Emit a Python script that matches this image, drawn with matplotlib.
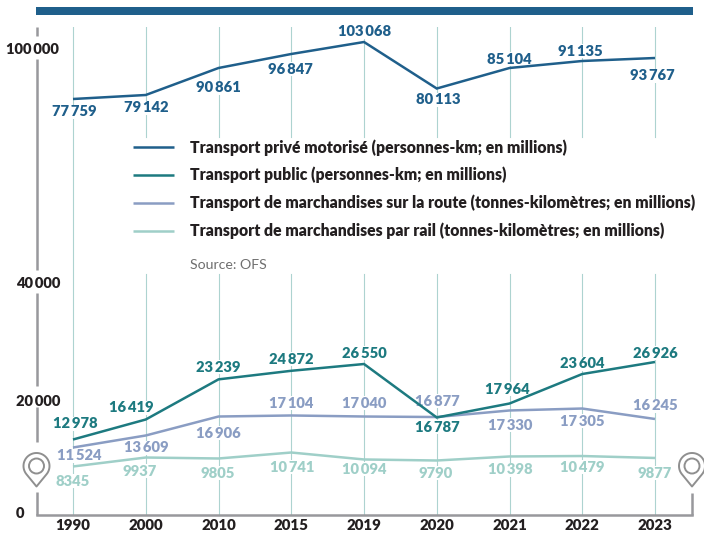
import numpy as np
import matplotlib
matplotlib.use("Agg")
import matplotlib.pyplot as plt
from matplotlib.lines import Line2D
from matplotlib.patches import Rectangle, PathPatch, Circle
from matplotlib.path import Path
from matplotlib.transforms import Affine2D

FONT = "Lato"
WEIGHT = "heavy"
plt.rcParams["font.family"] = [FONT, "DejaVu Sans"]

years = ["1990", "2000", "2010", "2015", "2019", "2020", "2021", "2022", "2023"]

# Values as drawn in the picture (the source's line does not always sit at its printed value)
prive = [77780, 79560, 91560, 97780, 103110, 82440, 91560, 94670, 96000]
public = [13040, 16520, 23500, 24990, 26170, 16870, 19300, 24430, 26520]
route = [11650, 13740, 17040, 17220, 17040, 16950, 18090, 18430, 16610]
rail = [8350, 9910, 9740, 10780, 9570, 9390, 10090, 10170, 9830]

prive_labels = ["77759", "79142", "90861", "96847", "103068", "80113", "85104", "91135", "93767"]
public_labels = ["12978", "16419", "23239", "24872", "26550", "16787", "17964", "23604", "26926"]
route_labels = ["11524", "13609", "16906", "17104", "17040", "16877", "17330", "17305", "16245"]
rail_labels = ["8345", "9937", "9805", "10741", "10094", "9790", "10398", "10479", "9877"]

series_names = [
    "Transport privé motorisé (personnes-km; en millions)",
    "Transport public (personnes-km; en millions)",
    "Transport de marchandises sur la route (tonnes-kilomètres; en millions)",
    "Transport de marchandises par rail (tonnes-kilomètres; en millions)",
]

C_PRIVE, C_PUBLIC, C_ROUTE, C_RAIL = "#1f5f8b", "#1d7a80", "#8a9dc3", "#9fcfc8"
C_GRID, C_AXIS, C_TEXT = "#add3d0", "#98989c", "#231f20"

W, H = 704, 534
fig = plt.figure(figsize=(W / 100, H / 100), dpi=100, facecolor="white")
px = Affine2D().scale(1, -1).translate(0, H)

L, R, B, T = 36.5, 692.0, 514.5, 27.0
rect = [L / W, (H - B) / H, (R - L) / W, (B - T) / H]
low = fig.add_axes(rect)
up = fig.add_axes(rect)
up.patch.set_alpha(0)

LOW_UNIT, UP_UNIT = 173.9, 444.4
low.set_ylim(0, (B - T) * LOW_UNIT)
up.set_ylim(100000 - (B - 49) * UP_UNIT, 100000 + (49 - T) * UP_UNIT)
x = np.arange(len(years))
xlim = ((L - 73) / 72.75, (R - 73) / 72.75)
for a in (low, up):
    a.set_xlim(*xlim)
    for s in a.spines.values():
        s.set_visible(False)
up.set_xticks([])
up.set_yticks([])

low.set_yticks([])
low.set_xticks(x, years, fontsize=10.8, fontweight=WEIGHT, color=C_TEXT)
low.tick_params(axis="x", length=0, pad=3.5)
low.spines["bottom"].set_visible(True)
low.spines["bottom"].set_color(C_AXIS)
low.spines["bottom"].set_linewidth(1.8)

def lowv(p):
    return (B - p) * LOW_UNIT

top_px = [27] + [27] * 3 + [37] + [27] * 4
for i in x:
    if i == 0:
        low.plot([i, i], [lowv(27), 0], color=C_GRID, lw=0.8, zorder=1)
    else:
        low.plot([i, i], [lowv(top_px[i]), lowv(137)], color=C_GRID, lw=0.8, zorder=1)
        low.plot([i, i], [lowv(274), 0], color=C_GRID, lw=0.8, zorder=1)

lw = 1.8
kw = dict(lw=lw, solid_joinstyle="miter", solid_capstyle="butt")
h1, = up.plot(x, prive, color=C_PRIVE, zorder=3, **kw)
h4, = low.plot(x, rail, color=C_RAIL, zorder=3, **kw)
h3, = low.plot(x, route, color=C_ROUTE, zorder=3, **kw)
h2, = low.plot(x, public, color=C_PUBLIC, zorder=4, **kw)

def fmt(s):
    return s[:-3] + "\u2009" + s[-3:] if len(s) > 4 else s

# label centres, in pixels of the picture
prive_pos = [(74, 111), (146, 107), (218, 87), (290, 68), (365, 31), (438, 99), (509, 58), (580, 50), (652, 75)]
public_pos = [(75, 423), (131, 407), (218, 366), (291, 358), (364, 352), (437, 426), (507, 388), (582, 363), (655, 352)]
route_pos = [(79, 455), (146, 447), (218, 432), (291, 402), (364, 402), (437, 400), (510, 424), (582, 420), (655, 405)]
rail_pos = [(73, 480), (140, 470), (218, 472), (292, 466), (364, 468), (436, 472), (510, 469), (582, 466), (655, 472)]

LABEL_FS = 10.6
for ax_, labs, pos, col in [
    (up, prive_labels, prive_pos, C_PRIVE),
    (low, public_labels, public_pos, C_PUBLIC),
    (low, route_labels, route_pos, C_ROUTE),
    (low, rail_labels, rail_pos, C_RAIL),
]:
    for s, (tx, ty) in zip(labs, pos):
        ax_.text(tx, ty, fmt(s), transform=px, ha="center", va="center_baseline", fontsize=LABEL_FS,
                 fontweight=WEIGHT, color=col, zorder=2,
                 bbox=dict(facecolor="white", edgecolor="none", pad=0.5))

for s, (tx, ty) in zip(["100\u2009000", "40\u2009000", "20\u2009000", "0"],
                       [(59, 49), (60, 283), (60, 400), (24, 513)]):
    fig.text(tx / W, 1 - ty / H, s, ha="right", va="center_baseline", fontsize=10.6, fontweight=WEIGHT, color=C_TEXT)

for xp, y0, y1 in [(36.5, 27, 36), (36.5, 59, 270), (36.5, 293, 386), (36.5, 407, 442), (36.5, 492, 515),
                   (692, 493, 515)]:
    fig.add_artist(Line2D([xp, xp], [y0, y1], transform=px, color=C_AXIS, lw=1.8, solid_capstyle="butt"))

fig.add_artist(Rectangle((35.5, 7), 657.5, 8, transform=px, facecolor=C_PRIVE, edgecolor="none"))

def pin(cx, cy=466, r=13, tip=486.5):
    a = np.arccos(r / (tip - cy))
    th = np.linspace(np.pi / 2 - a, np.pi / 2 + a - 2 * np.pi, 60)
    xs = cx + r * np.cos(th)
    ys = cy + r * np.sin(th)
    verts = list(zip(xs, ys)) + [(cx, tip), (xs[0], ys[0])]
    fig.add_artist(PathPatch(Path(verts), transform=px, facecolor="white", edgecolor="#8f8f8f", lw=1.4,
                             joinstyle="round", zorder=5))
    fig.add_artist(Circle((cx, cy), 7.5, transform=px, facecolor="white", edgecolor="#8f8f8f", lw=1.4, zorder=6))

pin(36.5)
pin(692)

LEG_FS = 11.3
em = LEG_FS / 0.72
up.legend([h1, h2, h3, h4], series_names, loc="upper left", bbox_to_anchor=(133, H - 139),
          bbox_transform=Affine2D(),
          frameon=False, borderpad=0, borderaxespad=0, handlelength=41 / em, handletextpad=16 / em,
          labelspacing=0.72, prop={"family": FONT, "weight": WEIGHT, "size": LEG_FS},
          labelcolor=C_TEXT)

fig.text(190 / W, 1 - 264 / H, "Source: OFS", ha="left", va="center_baseline", fontsize=10.2, color="#6f6f6f",
         fontfamily=["Lato", "DejaVu Sans"], fontweight="normal")

fig.savefig("out.png", dpi=100)
